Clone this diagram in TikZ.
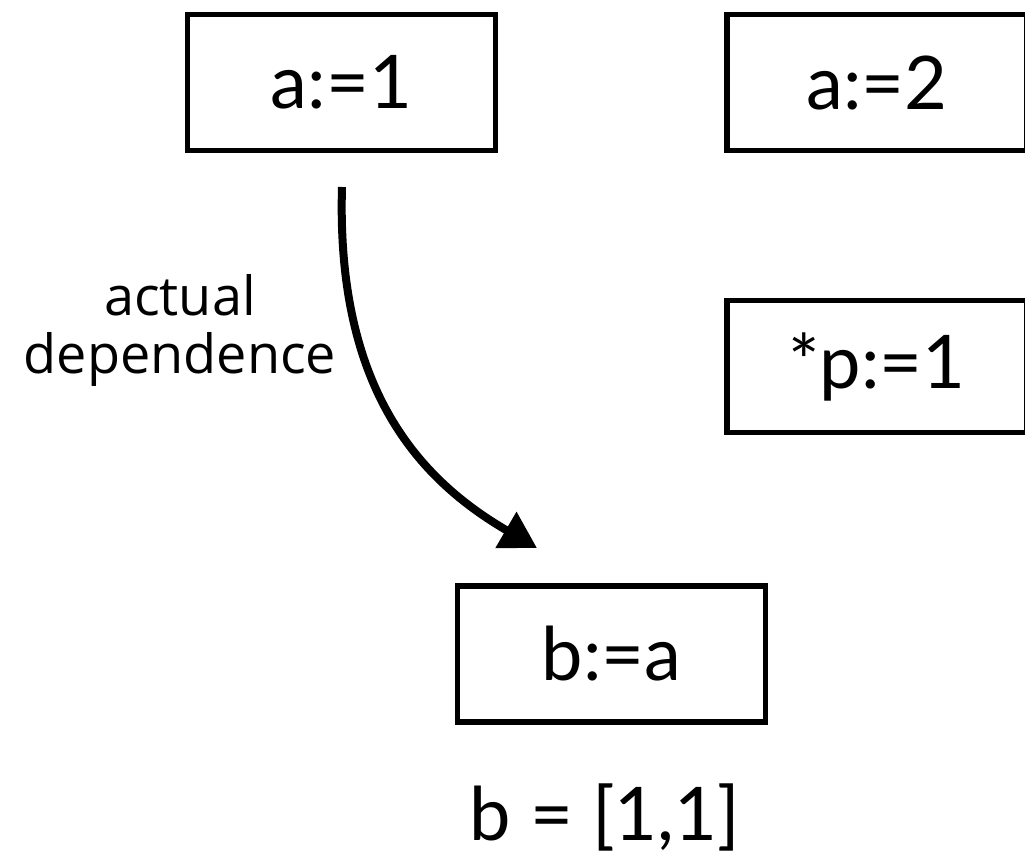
\documentclass[tikz,border=0pt]{standalone}
\usepackage{fontspec}
\setmainfont{Lato}
\newfontfamily\labelfont{Open Sans}
\usetikzlibrary{arrows.meta}
\tikzset{
  stmt/.style={draw=black, line width=5.5pt, minimum width=308pt, minimum height=136pt, inner sep=0pt,
    font=\fontsize{74}{80}\selectfont},
  lbl/.style={font=\labelfont\fontsize{54}{58}\selectfont, align=center, inner sep=0pt},
  dep/.style={line width=8pt, -{Triangle[length=36pt,width=40pt]}}
}
\begin{document}
\begin{tikzpicture}[x=1pt,y=-1pt]
\useasboundingbox (0,0) rectangle (1025,864);
\clip (0,0) rectangle (1025,864);
\node[stmt] (a1) at (341.5,82.5) {a:=1};
\node[stmt, minimum width=300pt] (a2) at (877,82.5) {a:=2};
\node[stmt, minimum width=300pt, minimum height=132pt] (p1) at (877,366.5) {*p:=1};
\node[stmt] (b) at (611.5,654) {b:=a};
\node[font=\fontsize{74}{80}\selectfont, inner sep=0pt] (res) at (605,817) {b = [1,1]};
\node[lbl] (lab) at (180,330) {actual\\dependence};
\coordinate (s) at (342,187);
\coordinate (e) at (537,548);
\draw[dep] (s) .. controls (336,390) and (420,480) .. (e);
\end{tikzpicture}
\end{document}
